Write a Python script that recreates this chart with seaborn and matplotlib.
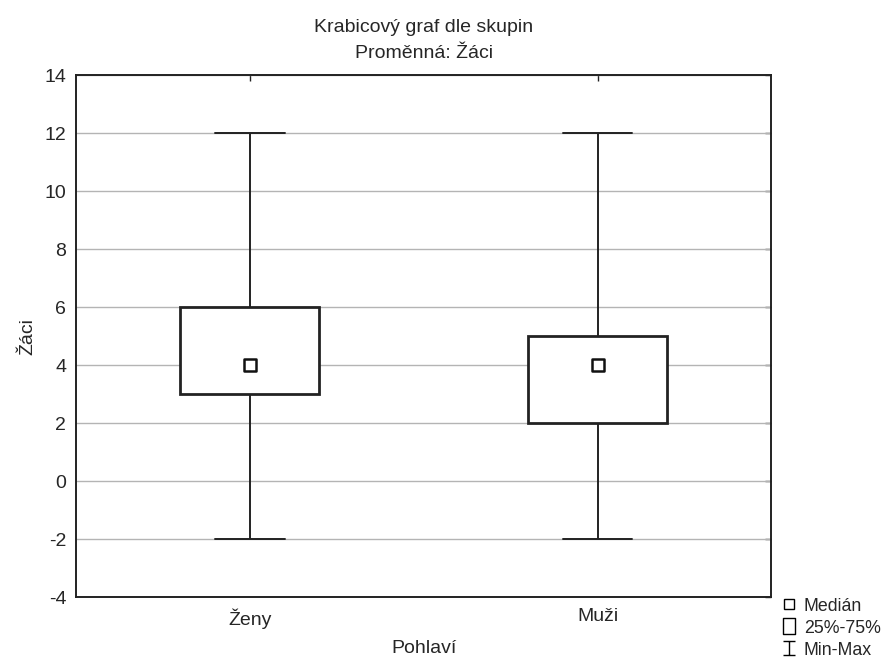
import numpy as np
import pandas as pd

import matplotlib as mpl
import matplotlib.pyplot as plt
from matplotlib.lines import Line2D
from matplotlib.path import Path

import seaborn as sns

# summary values
groups = ['Ženy', 'Muži']
mins = [-2, -2]
q1 = [3, 2]
medians = [4, 4]
q3 = [6, 5]
maxs = [12, 12]

# five points per group reproduce exactly min/Q1/median/Q3/max
rows = []
for g, a, b, c, d, e in zip(groups, mins, q1, medians, q3, maxs):
    for v in (a, b, c, d, e):
        rows.append({'Pohlaví': g, 'Žáci': v})
df = pd.DataFrame(rows)
med_df = pd.DataFrame({'Pohlaví': groups, 'Žáci': medians})

sns.set_style('white')
plt.rcParams['font.family'] = ['Liberation Sans', 'DejaVu Sans']
plt.rcParams['font.size'] = 14
plt.rcParams['axes.unicode_minus'] = False
fs = 14

fig = plt.figure(figsize=(8.87, 6.59), dpi=100)
ax = fig.add_axes([0.0857, 0.094, 0.784, 0.792])

sns.boxplot(data=df, x='Pohlaví', y='Žáci', order=groups, whis=(0, 100),
            width=0.4, color='white', linecolor='#222222', linewidth=1.4,
            boxprops={'linewidth': 2}, medianprops={'visible': False},
            ax=ax, zorder=2)
sns.scatterplot(data=med_df, x='Pohlaví', y='Žáci', marker='s', s=70,
                color='white', edgecolor='#111111', linewidth=1.8,
                ax=ax, zorder=4, legend=False)

ax.set_ylim(-4, 14)
ax.set_yticks(np.arange(-4, 15, 2))
ax.set_xlim(-0.5, 1.5)
ax.yaxis.grid(True, color='#b4b4b4', linewidth=1)
ax.set_axisbelow(True)
for s in ax.spines.values():
    s.set_color('#222222')
    s.set_linewidth(1.4)
ax.tick_params(axis='y', direction='out', length=4, width=1, color='#222222',
               labelsize=fs, pad=3)
ax.tick_params(axis='x', direction='in', length=4, width=1, color='#222222',
               labelsize=fs, pad=8, top=True)
# small inward ticks on the right edge
sec = ax.secondary_yaxis('right')
sec.set_yticks(np.arange(-4, 15, 2))
sec.tick_params(direction='in', length=4, width=1, color='#222222', labelright=False)
sec.spines['right'].set_visible(False)

ax.set_xlabel('Pohlaví', fontsize=fs, labelpad=8)
ax.set_ylabel('Žáci', fontsize=fs, labelpad=6)
ax.set_title('Krabicový graf dle skupin\nProměnná: Žáci', fontsize=fs,
             linespacing=1.75, pad=12)

# legend in Statistica style
ibar = Path([(-0.8, -1), (0.8, -1), (0, -1), (0, 1), (-0.8, 1), (0.8, 1)],
            [Path.MOVETO, Path.LINETO, Path.MOVETO, Path.LINETO,
             Path.MOVETO, Path.LINETO])
rect = Path([(-0.4, -0.5), (0.4, -0.5), (0.4, 0.5), (-0.4, 0.5), (-0.4, -0.5)],
            [Path.MOVETO, Path.LINETO, Path.LINETO, Path.LINETO, Path.CLOSEPOLY])
handles = [
    Line2D([], [], linestyle='none', marker='s', markersize=7.5,
           markerfacecolor='white', markeredgecolor='black', markeredgewidth=1),
    Line2D([], [], linestyle='none', marker=rect, markersize=11.5,
           markerfacecolor='white', markeredgecolor='black', markeredgewidth=1),
    Line2D([], [], linestyle='none', marker=ibar, markersize=10,
           markerfacecolor='none', markeredgecolor='black', markeredgewidth=1),
]
fig.legend(handles, ['Medián', '25%-75%', 'Min-Max'], loc='upper left',
           bbox_to_anchor=(0.881, 0.093), frameon=False, fontsize=12.8,
           handlelength=0.8, handletextpad=0.45, labelspacing=0.28,
           borderpad=0, borderaxespad=0)

fig.savefig('out.png', dpi=100)
